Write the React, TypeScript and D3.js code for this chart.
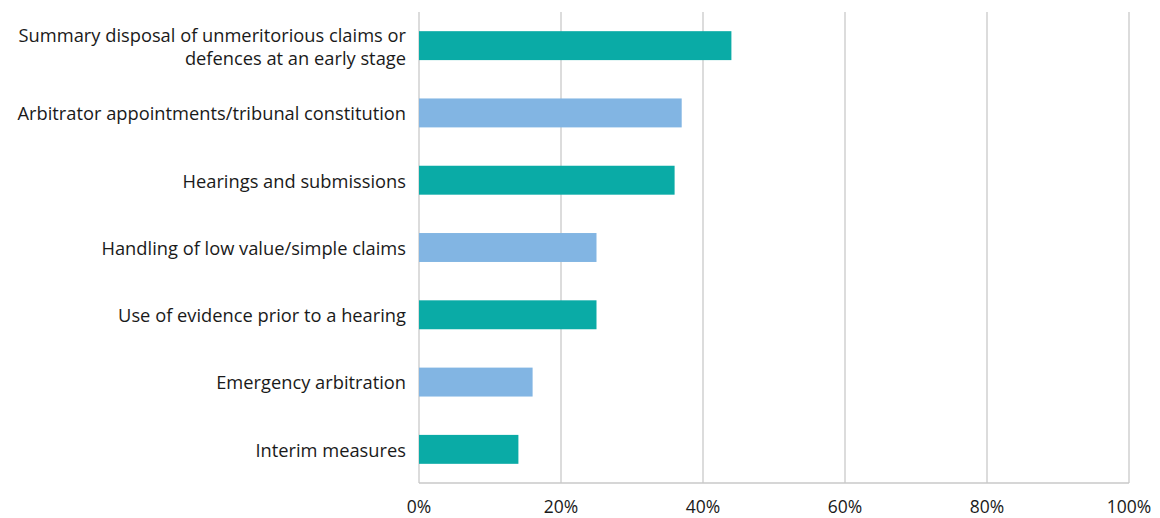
import React from "react";
import * as d3 from "d3";

const categories = [
  ["Summary disposal of unmeritorious claims or", "defences at an early stage"],
  ["Arbitrator appointments/tribunal constitution"],
  ["Hearings and submissions"],
  ["Handling of low value/simple claims"],
  ["Use of evidence prior to a hearing"],
  ["Emergency arbitration"],
  ["Interim measures"],
];
const values = [44, 37, 36, 25, 25, 16, 14];
const barColors = ["#0aaba6", "#82b5e3"];
const ticks = [0, 20, 40, 60, 80, 100];

export default function App() {
  const W = 1160, H = 518;
  const left = 419, right = 1129, top = 12, bottom = 483;
  const x = d3.scaleLinear().domain([0, 100]).range([left, right]);
  const y = d3
    .scaleBand<number>()
    .domain(d3.range(categories.length))
    .range([top, bottom])
    .paddingInner(0.57)
    .paddingOuter(0.285);
  const font = "'Open Sans', sans-serif";
  return (
    <svg width={W} height={H} style={{ position: "absolute", left: 0, top: 0 }}>
      <rect width={W} height={H} fill="#fff" />
      {ticks.map((t) => (
        <line key={"g" + t} x1={x(t)} x2={x(t)} y1={top} y2={bottom} stroke="#c9c9c9" strokeWidth={1.3} />
      ))}
      <line x1={left} x2={right} y1={bottom} y2={bottom} stroke="#c9c9c9" strokeWidth={1.3} />
      {values.map((v, i) => (
        <rect
          key={"b" + i}
          x={x(0)}
          y={y(i)!}
          width={x(v) - x(0)}
          height={y.bandwidth()}
          fill={barColors[i % 2]}
        />
      ))}
      {categories.map((lines, i) => {
        const cy = y(i)! + y.bandwidth() / 2 + 1;
        const lh = 23;
        const start = cy - ((lines.length - 1) * lh) / 2;
        return (
          <text
            key={"c" + i}
            textAnchor="end"
            fontFamily={font}
            fontSize={18.3}
            fill="#1a1a1a"
          >
            {lines.map((l, j) => (
              <tspan key={j} x={406} y={start + j * lh} dy="0.35em">
                {l}
              </tspan>
            ))}
          </text>
        );
      })}
      {ticks.map((t) => (
        <text
          key={"t" + t}
          x={x(t)}
          y={507}
          dy="0.35em"
          textAnchor="middle"
          fontFamily={font}
          fontSize={17.5}
          fill="#1a1a1a"
        >
          {t}%
        </text>
      ))}
    </svg>
  );
}
